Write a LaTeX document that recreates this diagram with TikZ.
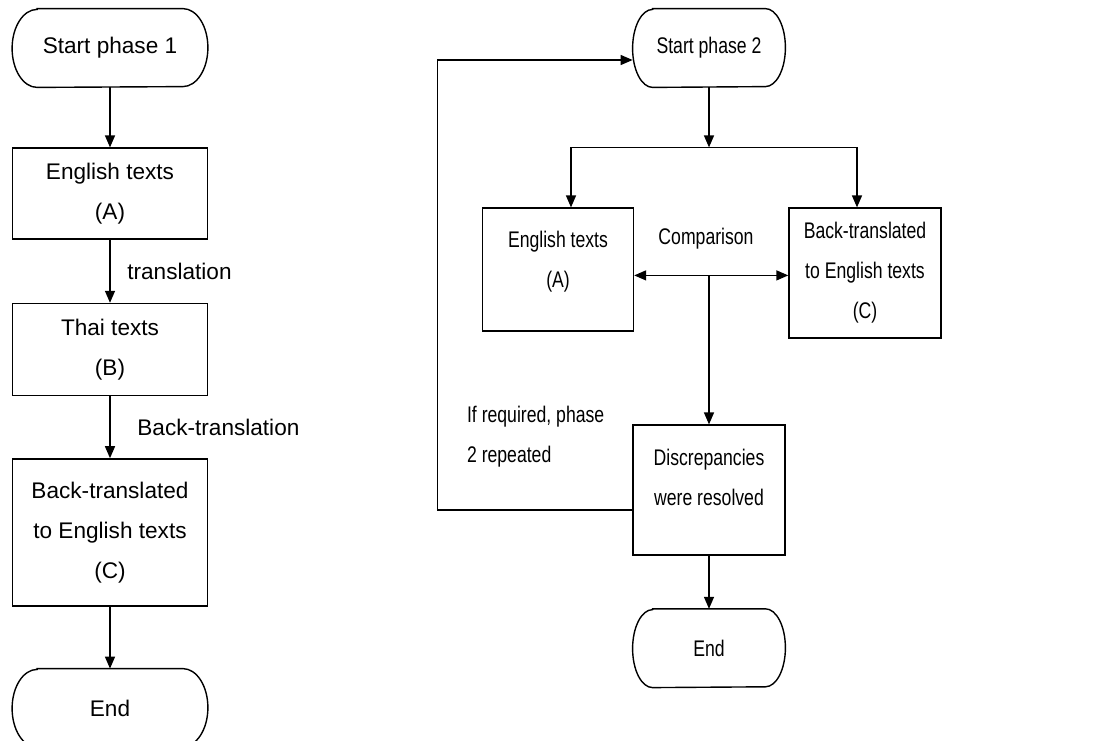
\documentclass[tikz,border=0pt]{standalone}
\usepackage{fontspec}
\setmainfont{Liberation Sans}
\newfontfamily\narrowsans[FakeStretch=0.78]{Liberation Sans}
\usetikzlibrary{arrows.meta, positioning}

\begin{document}
\begin{tikzpicture}[
	x=0.5pt, y=-0.5pt,
	every node/.style={align=center, font=\fontsize{11.3}{20}\selectfont},
	box/.style={rectangle, draw, line width=.7pt, minimum width=97.5pt, align=center},
	narrowbox/.style={box, minimum width=76pt, font=\narrowsans\fontsize{11.3}{20}\selectfont},
	term/.style={rectangle, minimum width=97.5pt, minimum height=39pt},
	narrowterm/.style={term, minimum width=76pt, font=\narrowsans\fontsize{11.3}{20}\selectfont},
	narrowtext/.style={font=\narrowsans\fontsize{11.3}{20}\selectfont},
	arrow/.style={-{Triangle[length=6pt, width=5pt]}, line width=.7pt},
	twoway/.style={{Triangle[length=6pt, width=5pt]}-{Triangle[length=6pt, width=5pt]}, line width=.7pt},
	link/.style={line width=.7pt}
	]
	\useasboundingbox (0,0) rectangle (1093,740);
	
	% phase 1
	\node[term] (start1) at (110,48) {Start phase 1};
	\node[box, minimum height=45.5pt, below=30pt of start1] (eng1) {English texts\\(A)};
	\node[box, minimum height=46pt, below=31.5pt of eng1] (thai1) {Thai texts\\(B)};
	\node[box, minimum height=73.5pt, below=31pt of thai1] (back1) {Back-translated\\to English texts\\(C)};
	\node[term, below=31pt of back1] (end1) {End};
	
	\draw[arrow] (start1) -- (eng1);
	\draw[arrow] (eng1) -- node[right=5pt] {translation} (thai1);
	\draw[arrow] (thai1) -- node[right=10pt] {Back-translation} (back1);
	\draw[arrow] (back1) -- (end1);
	
	% phase 2
	\node[narrowterm] (start2) at (709,48) {Start phase 2};
	\node[narrowbox, minimum width=75.5pt, minimum height=61.5pt, below=60pt of start2, xshift=-75.5pt] (eng2) {English texts\\(A)\\[-10pt]\mbox{}};
	\node[narrowbox, minimum height=65pt, below=60pt of start2, xshift=78pt] (back2) {Back-translated\\to English texts\\(C)};
	\node[narrowbox, minimum height=65pt, below=168.5pt of start2] (disc) {Discrepancies\\were resolved\\[-7pt]\mbox{}};
	\node[narrowterm, below=26.5pt of disc] (end2) {End};
	
	\coordinate (split) at ([yshift=-30pt]start2.south);
	\coordinate (cmp) at ([yshift=-64pt]split);
	\node[narrowtext] (cmplabel) at ([xshift=-1.5pt, yshift=18.5pt]cmp) {Comparison};
	\node[narrowtext, align=left, anchor=west] (repeat) at (460,437) {If required, phase\\2 repeated};
	
	\draw[arrow] (start2) -- (split);
	\draw[arrow] (split) -| ([xshift=6.5pt]eng2.north);
	\draw[arrow] (split) -| ([xshift=-4pt]back2.north);
	\draw[twoway] (eng2.east |- cmp) -- (back2.west |- cmp);
	\draw[arrow] (cmp) -- (cmp |- disc.north);
	\draw[arrow] (disc) -- (end2);
	\draw[arrow] ([yshift=-10pt]disc.west) -- ++(-97.5pt,0) |- ([yshift=-6pt]start2.west);
	
	% terminal outlines
	\foreach \t/\r in {start1/12.5pt, end1/12.5pt, start2/10pt, end2/10pt}
	\draw[link] ([xshift=\r]\t.north west) -- ([xshift=-\r]\t.north east)
		arc[start angle=90, end angle=-90, x radius=\r, y radius=19.5pt]
		-- ([xshift=\r]\t.south west)
		arc[start angle=270, end angle=90, x radius=\r, y radius=19.5pt] -- cycle;
\end{tikzpicture}
\end{document}
